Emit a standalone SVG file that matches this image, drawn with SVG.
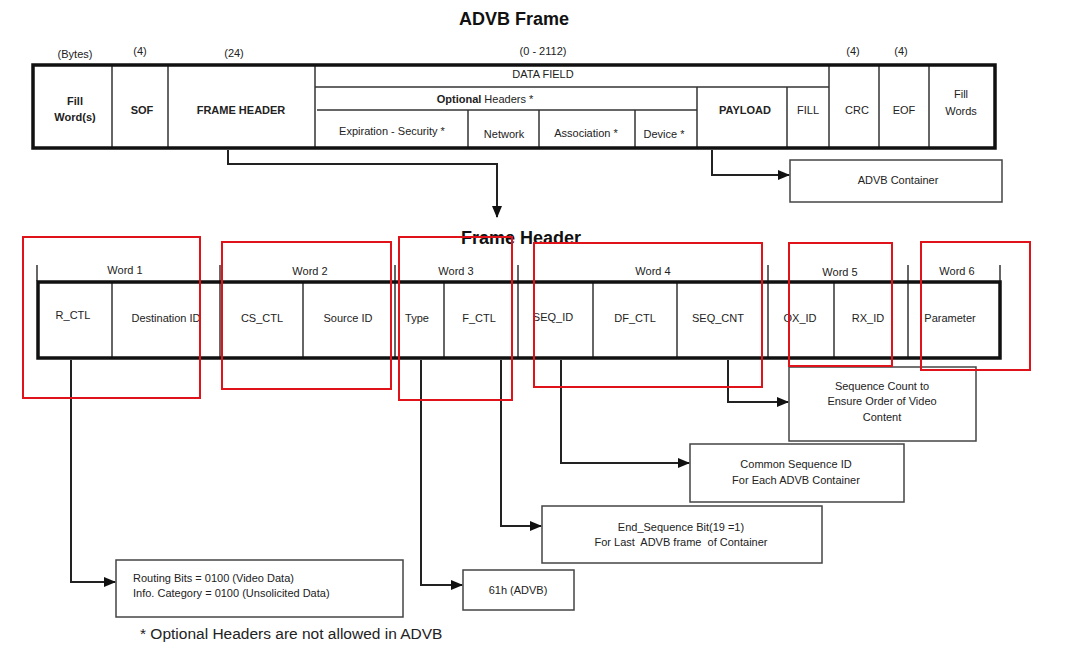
<svg xmlns="http://www.w3.org/2000/svg" width="1092" height="651" viewBox="0 0 1092 651">
<style>
text{font-family:"Liberation Sans",Arial,sans-serif;fill:#222;text-anchor:middle}
.t{font-size:11px}
.b{font-weight:bold}
.h{font-size:18px;font-weight:bold;fill:#111}
.thick{fill:none;stroke:#111;stroke-width:3.5}
.thin{fill:none;stroke:#333;stroke-width:1.5}
.box{fill:#fff;stroke:#444;stroke-width:1.5}
.con{fill:none;stroke:#222;stroke-width:2}
.red{fill:none;stroke:#e0121a;stroke-width:2}
</style>
<defs>
<marker id="ah" viewBox="0 0 12 10" refX="11" refY="5" markerWidth="12" markerHeight="10" markerUnits="userSpaceOnUse" orient="auto">
<path d="M0,0 L12,5 L0,10 z" fill="#111"/>
</marker>
</defs>
<rect width="1092" height="651" fill="#fff"/>
<text class="h" x="514" y="25">ADVB Frame</text>
<text class="h" x="521" y="244">Frame Header</text>

<g id="frame">
<text class="t" x="75" y="58">(Bytes)</text>
<text class="t" x="140" y="55">(4)</text>
<text class="t" x="234" y="57">(24)</text>
<text class="t" x="543" y="55">(0 - 2112)</text>
<text class="t" x="853" y="55">(4)</text>
<text class="t" x="901" y="55">(4)</text>
<g class="thin">
<line x1="112" y1="64" x2="112" y2="148"/>
<line x1="168" y1="64" x2="168" y2="148"/>
<line x1="315" y1="64" x2="315" y2="148"/>
<line x1="829" y1="64" x2="829" y2="148"/>
<line x1="879" y1="64" x2="879" y2="148"/>
<line x1="929" y1="64" x2="929" y2="148"/>
<line x1="315" y1="87" x2="829" y2="87"/>
<line x1="317" y1="110" x2="697" y2="110"/>
<line x1="468" y1="110" x2="468" y2="148"/>
<line x1="539" y1="110" x2="539" y2="148"/>
<line x1="635" y1="110" x2="635" y2="148"/>
<line x1="697" y1="87" x2="697" y2="148"/>
<line x1="787" y1="87" x2="787" y2="148"/>
</g>
<rect class="thick" x="33" y="65" width="962" height="83"/>
<text class="t b" x="75" y="105">Fill</text>
<text class="t b" x="75" y="121">Word(s)</text>
<text class="t b" x="142" y="114">SOF</text>
<text class="t b" x="241" y="114">FRAME HEADER</text>
<text class="t" x="543" y="78">DATA FIELD</text>
<text class="t" x="485" y="103"><tspan class="b">Optional</tspan> Headers *</text>
<text class="t" x="392" y="135">Expiration - Security *</text>
<text class="t" x="504" y="138">Network</text>
<text class="t" x="586" y="137">Association *</text>
<text class="t" x="664" y="138">Device *</text>
<text class="t b" x="745" y="114">PAYLOAD</text>
<text class="t" x="808" y="114">FILL</text>
<text class="t" x="857" y="114">CRC</text>
<text class="t" x="904" y="114">EOF</text>
<text class="t" x="961" y="98">Fill</text>
<text class="t" x="961" y="115">Words</text>
</g>

<g id="advb-container">
<rect class="box" x="790" y="160" width="212" height="42"/>
<text class="t" x="898" y="184">ADVB Container</text>
</g>

<g id="header-bar">
<text class="t" x="125" y="274">Word 1</text>
<text class="t" x="310" y="275">Word 2</text>
<text class="t" x="456" y="275">Word 3</text>
<text class="t" x="653" y="275">Word 4</text>
<text class="t" x="840" y="276">Word 5</text>
<text class="t" x="957" y="275">Word 6</text>
<g class="thin">
<line x1="37" y1="265" x2="37" y2="281"/>
<line x1="220" y1="265" x2="220" y2="358"/>
<line x1="395" y1="265" x2="395" y2="358"/>
<line x1="518" y1="265" x2="518" y2="358"/>
<line x1="768" y1="265" x2="768" y2="358"/>
<line x1="908" y1="265" x2="908" y2="358"/>
<line x1="1000" y1="265" x2="1000" y2="281"/>
<line x1="112" y1="281" x2="112" y2="358"/>
<line x1="303" y1="281" x2="303" y2="358"/>
<line x1="444" y1="281" x2="444" y2="358"/>
<line x1="593" y1="281" x2="593" y2="358"/>
<line x1="677" y1="281" x2="677" y2="358"/>
<line x1="834" y1="281" x2="834" y2="358"/>
</g>
<rect class="thick" x="38" y="282" width="962" height="76"/>
<text class="t" x="73" y="319">R_CTL</text>
<text class="t" x="166" y="322">Destination ID</text>
<text class="t" x="262" y="322">CS_CTL</text>
<text class="t" x="348" y="322">Source ID</text>
<text class="t" x="417" y="322">Type</text>
<text class="t" x="479" y="322">F_CTL</text>
<text class="t" x="553" y="321">SEQ_ID</text>
<text class="t" x="635" y="322">DF_CTL</text>
<text class="t" x="718" y="322">SEQ_CNT</text>
<text class="t" x="800" y="322">OX_ID</text>
<text class="t" x="868" y="322">RX_ID</text>
<text class="t" x="950" y="322">Parameter</text>
</g>

<g id="seq-cnt-box">
<rect class="box" x="789" y="367" width="187" height="74"/>
<text class="t" x="882" y="390">Sequence Count to</text>
<text class="t" x="882" y="405">Ensure Order of Video</text>
<text class="t" x="882" y="421">Content</text>
</g>
<g id="seq-id-box">
<rect class="box" x="690" y="444" width="214" height="58"/>
<text class="t" x="796" y="468">Common Sequence ID</text>
<text class="t" x="796" y="484">For Each ADVB Container</text>
</g>
<g id="end-seq-box">
<rect class="box" x="542" y="506" width="280" height="57"/>
<text class="t" x="681" y="531">End_Sequence Bit(19 =1)</text>
<text class="t" x="681" y="546" style="white-space:pre">For Last  ADVB frame  of Container</text>
</g>
<g id="type-box">
<rect class="box" x="463" y="570" width="111" height="40"/>
<text class="t" x="518" y="594">61h (ADVB)</text>
</g>
<g id="rctl-box">
<rect class="box" x="116" y="560" width="287" height="57"/>
<text class="t" x="133" y="582" style="text-anchor:start">Routing Bits = 0100 (Video Data)</text>
<text class="t" x="133" y="597" style="text-anchor:start">Info. Category = 0100 (Unsolicited Data)</text>
</g>

<g id="connectors">
<path class="con" d="M228,150 V164 H497 V217" marker-end="url(#ah)"/>
<path class="con" d="M712,150 V175 H789" marker-end="url(#ah)"/>
<path class="con" d="M71,360 V582 H115" marker-end="url(#ah)"/>
<path class="con" d="M421,360 V585 H462" marker-end="url(#ah)"/>
<path class="con" d="M501,360 V526 H541" marker-end="url(#ah)"/>
<path class="con" d="M561,360 V463 H689" marker-end="url(#ah)"/>
<path class="con" d="M728,360 V402 H788" marker-end="url(#ah)"/>
</g>

<text x="140" y="639" style="font-size:15.5px;text-anchor:start">* Optional Headers are not allowed in ADVB</text>

<g id="highlights">
<rect class="red" x="23" y="237" width="177" height="161"/>
<rect class="red" x="222" y="242" width="169" height="147"/>
<rect class="red" x="399" y="237" width="113" height="163"/>
<rect class="red" x="534" y="243" width="228" height="144"/>
<rect class="red" x="789" y="243" width="103" height="123"/>
<rect class="red" x="921" y="242" width="109" height="128"/>
</g>
</svg>
